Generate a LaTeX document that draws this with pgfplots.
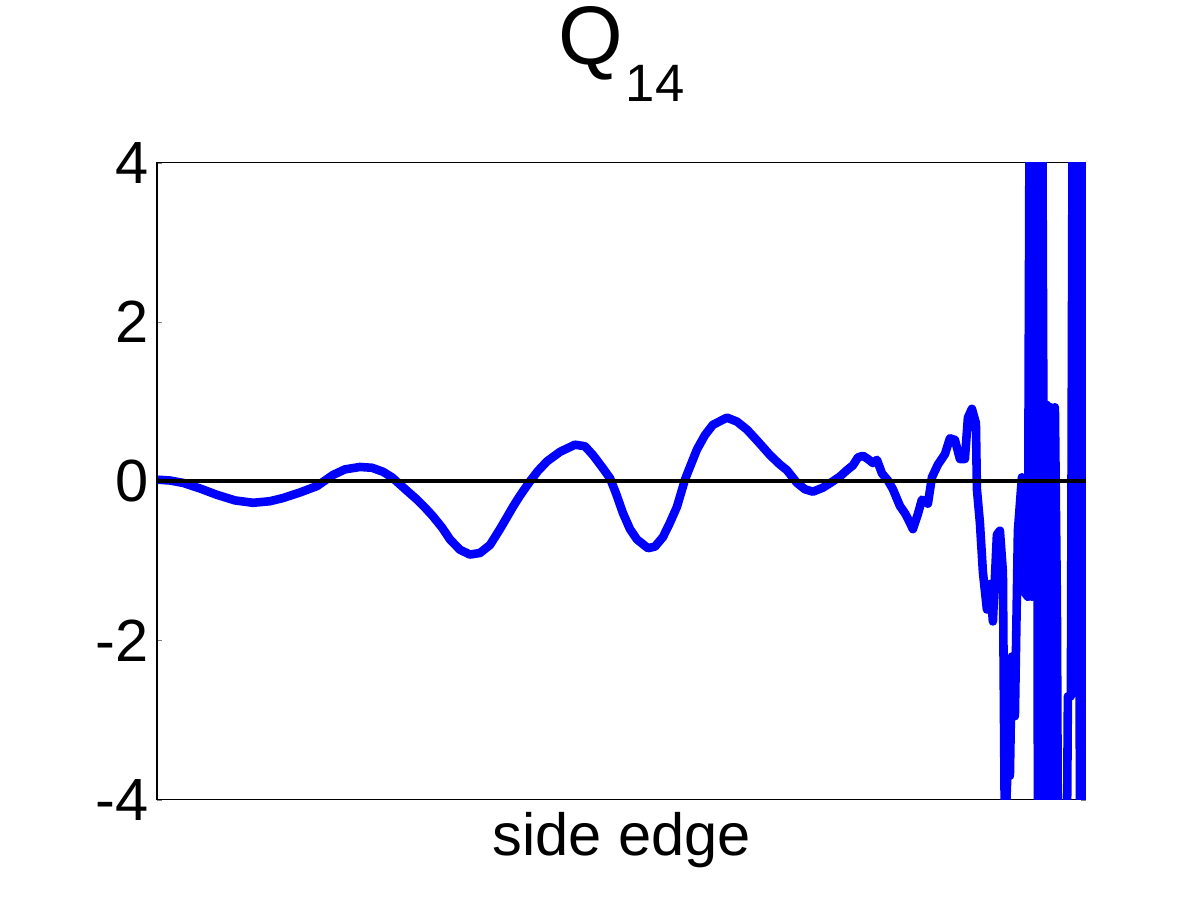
\documentclass[border=0pt]{standalone}
\usepackage{fontspec}
\setmainfont{Liberation Sans}
\usepackage{pgfplots}
\pgfplotsset{compat=1.18}
\begin{document}
\begin{tikzpicture}
\begin{axis}[
  name=ax,
  scale only axis,
  width=335.4pt, height=230pt,
  xmin=157, xmax=1086, ymin=-4, ymax=4,
  xtick=\empty,
  ytick={-4,-2,0,2,4},
  tick align=inside,
  major tick length=1.8pt,
  ytick pos=both,
  axis line style={line width=0.4pt},
  /pgf/number format/assume math mode=true,
  yticklabel style={font=\fontsize{21.5}{21.5}\selectfont, xshift=0.5pt},
  xlabel={side edge},
  xlabel style={font=\fontsize{21.5}{21.5}\selectfont, yshift=-1pt},
  title={Q\hspace{1pt}\raisebox{-0.45em}{\fontsize{19}{19}\selectfont 14}},
  title style={font=\fontsize{30}{30}\selectfont, yshift=12.5pt},
]
\addplot[color={rgb,255:red,0;green,0;blue,255}, line width=3.1pt, line join=round] coordinates {
(158,0.02) (170,0.01) (183,-0.02) (200,-0.09) (217,-0.17) (235,-0.24) (253,-0.27) (270,-0.25) (283,-0.21) (300,-0.14) (317,-0.06) (333,0.08) (345,0.15) (360,0.18) (372,0.17) (383,0.12) (392,0.05) (400,-0.04) (408,-0.13) (417,-0.23) (425,-0.33) (433,-0.44) (442,-0.58) (450,-0.73) (460,-0.86) (470,-0.92) (480,-0.90) (490,-0.80) (500,-0.60) (507,-0.45) (513,-0.32) (520,-0.18) (530,0.00) (538,0.13) (547,0.25) (560,0.37) (575,0.46) (585,0.44) (593,0.33) (602,0.18) (610,0.04) (616,-0.15) (623,-0.40) (630,-0.60) (637,-0.73) (648,-0.84) (655,-0.82) (663,-0.70) (670,-0.52) (677,-0.32) (685,0.02) (690,0.18) (697,0.40) (705,0.58) (713,0.71) (727,0.80) (737,0.75) (747,0.65) (758,0.50) (770,0.33) (780,0.21) (787,0.14) (797,-0.02) (805,-0.10) (813,-0.13) (823,-0.08) (833,0.00) (840,0.06) (847,0.14) (853,0.20) (858,0.30) (863,0.32) (868,0.28) (873,0.23) (877,0.27) (882,0.10) (888,0.01) (893,-0.10) (900,-0.31) (905,-0.40) (908,-0.47) (913,-0.60) (918,-0.41) (922,-0.23) (928,-0.28) (932,0.05) (938,0.21) (945,0.34) (950,0.54) (955,0.52) (960,0.28) (965,0.28) (968,0.80) (972,0.91) (976,0.73) (977,-0.10) (980,-0.52) (983,-1.14) (987,-1.61) (990,-1.29) (993,-1.76) (997,-0.67) (1000,-0.62) (1003,-1.14) (1005,-4.5) (1008,-3.5) (1010,-3.7) (1012,-2.2) (1015,-2.95) (1017,-1.4) (1018,-0.62) (1022,0.05) (1025,-1.4) (1028,-1.45) (1030,6) (1032,-1.45) (1034,6) (1035,-1.45) (1037,6) (1038,-4.5) (1040,6) (1042,6) (1043,2.6) (1045,-4.5) (1047,0.96) (1049,-4.5) (1051,0.93) (1053,-4.5) (1055,0.93) (1057,-1.55) (1058,-4.5) (1067,-4.5) (1068,-2.7) (1071,-2.7) (1073,6) (1079,6) (1080,-4.5) (1084,-4.5) (1085,6)
};
\addplot[black, line width=1.4pt] coordinates {(157,0) (1086,0)};
\coordinate (bl) at (rel axis cs:0,0);
\coordinate (tr) at (rel axis cs:1,1);
\end{axis}
\pgfresetboundingbox
\path ([shift={(-56.7pt,-36.1pt)}]bl) rectangle ([shift={(41.2pt,58.8pt)}]tr);
\end{tikzpicture}
\end{document}
